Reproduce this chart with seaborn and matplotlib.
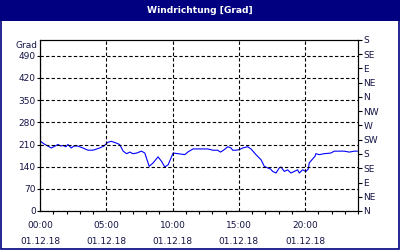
import matplotlib
matplotlib.use("Agg")
import matplotlib.pyplot as plt
import seaborn as sns
import pandas as pd
from matplotlib.patches import Rectangle
from matplotlib.ticker import MultipleLocator

hours = [0.05, 0.30, 0.60, 0.85, 1.13, 1.36, 1.58, 1.73, 1.96, 2.11, 2.36, 2.56, 2.86,
         3.24, 3.62, 4.00, 4.22, 4.50, 4.82, 5.12, 5.39, 5.73, 6.01, 6.28, 6.53, 6.78,
         7.01, 7.29, 7.66, 7.91, 8.24, 8.54, 8.91, 9.17, 9.42, 9.67, 10.05, 10.42,
         10.93, 11.18, 11.55, 11.91, 12.66, 13.04, 13.41, 13.62, 13.92, 14.17, 14.42,
         14.54, 14.79, 15.05, 15.30, 15.67, 15.92, 16.30, 16.68, 16.93, 17.18, 17.39,
         17.56, 17.81, 18.06, 18.18, 18.44, 18.69, 18.94, 19.19, 19.44, 19.57, 19.82,
         20.07, 20.25, 20.32, 20.57, 20.76, 20.82, 21.08, 21.45, 21.95, 22.21, 22.96,
         23.34, 23.72, 23.96]
degrees = [220, 212, 205, 199, 205, 210, 205, 207, 203, 210, 199, 205, 205,
           199, 192, 192, 195, 199, 205, 217, 220, 215, 210, 189, 181, 186,
           181, 183, 189, 183, 141, 152, 171, 157, 139, 146, 183, 181,
           178, 187, 196, 196, 196, 192, 192, 186, 194, 203, 199,
           192, 192, 194, 199, 203, 196, 178, 162, 141, 136, 133,
           125, 120, 136, 139, 125, 130, 120, 125, 130, 120, 130,
           125, 133, 152, 164, 173, 181, 178, 181, 183, 189, 189,
           186, 189, 189]

y_ticks = [0, 70, 140, 210, 280, 350, 420, 490]
x_ticks = [0, 5, 10, 15, 20]
x_labels = ["00:00\n01.12.18", "05:00\n01.12.18", "10:00\n01.12.18",
            "15:00\n01.12.18", "20:00\n01.12.18"]
dir_labels = ["N", "NE", "E", "SE", "S", "SW", "W", "NW", "N", "NE", "E", "SE", "S"]
title = "Windrichtung [Grad]"
y_unit = "Grad"

sns.set_style("white")
plt.rcParams["font.family"] = ["DejaVu Sans"]
plt.rcParams["font.size"] = 6.5

txt = "#141446"
df = pd.DataFrame({"h": hours, "deg": degrees})

fig = plt.figure(figsize=(4, 2.5), dpi=100)
navy = "#000080"
fig.patches.append(Rectangle((0, 0.918), 1, 0.082, transform=fig.transFigure,
                             facecolor=navy, edgecolor="none", zorder=0))
fig.patches.append(Rectangle((0.002, 0.004), 0.996, 0.994, transform=fig.transFigure,
                             facecolor="none", edgecolor=navy, linewidth=1.2, zorder=5))
fig.text(0.5, 0.958, title, color="white", fontweight="bold", fontsize=6.6,
         ha="center", va="center")

ax = fig.add_axes([0.1, 0.156, 0.795, 0.684])
sns.lineplot(data=df, x="h", y="deg", ax=ax, color="#0000FF", linewidth=0.8)
ax.set_xlim(0, 24)
ax.set_ylim(0, 540)
ax.set_xlabel("")
ax.set_ylabel("")
ax.set_yticks(y_ticks)
ax.set_yticklabels([str(v) for v in y_ticks])
ax.set_xticks(x_ticks)
ax.set_xticklabels(x_labels, linespacing=2.0)
ax.xaxis.set_minor_locator(MultipleLocator(1))
for s in ax.spines.values():
    s.set_color("black")
    s.set_linewidth(0.8)
ax.tick_params(axis="y", which="major", direction="out", length=2, width=0.8,
               colors="black", labelcolor=txt, labelsize=6.5, pad=1)
ax.tick_params(axis="x", which="major", direction="out", length=3, width=0.8,
               colors="black", labelcolor=txt, labelsize=6.5, pad=4)
ax.tick_params(axis="x", which="minor", direction="out", length=2, width=0.8,
               colors="black", bottom=True)
ax.grid(True, which="major", color="black", linestyle=(0, (3, 2)), linewidth=0.8)
ax.set_axisbelow(False)

ax2 = ax.twinx()
ax2.set_ylim(0, 540)
ax2.set_yticks(list(range(0, 541, 45)))
ax2.set_yticklabels(dir_labels)
ax2.tick_params(axis="y", direction="out", length=3, width=0.8, colors="black",
                labelcolor=txt, labelsize=6.5, pad=1)
ax2.grid(False)
for s in ax2.spines.values():
    s.set_color("black")
    s.set_linewidth(0.8)

ax.text(-0.008, 0.995, y_unit, transform=ax.transAxes, ha="right", va="top",
        fontsize=6.5, color=txt)

fig.savefig("out.png", dpi=100, facecolor="white")
